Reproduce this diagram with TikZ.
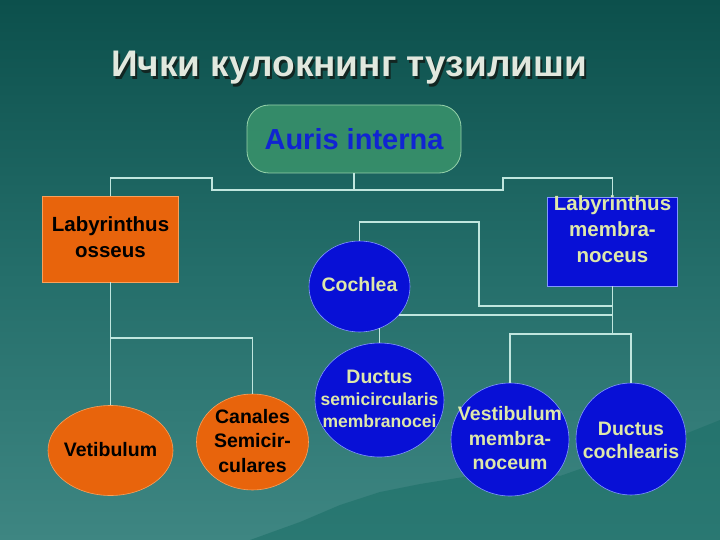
\documentclass[tikz,border=0pt]{standalone}
\usepackage{fontspec}
\setmainfont{Liberation Sans}
\usetikzlibrary{shapes.geometric}
\definecolor{bgtop}{RGB}{12,80,76}
\definecolor{bgmid}{RGB}{36,110,106}
\definecolor{bgbot}{RGB}{62,134,130}
\definecolor{mount}{RGB}{26,110,102}
\definecolor{lineC}{RGB}{192,230,222}
\definecolor{orangeF}{RGB}{232,100,12}
\definecolor{orangeB}{RGB}{250,160,90}
\definecolor{blueF}{RGB}{8,16,214}
\definecolor{blueB}{RGB}{130,150,255}
\definecolor{paleT}{RGB}{222,232,170}
\definecolor{aurisF}{RGB}{58,148,108}
\definecolor{aurisB}{RGB}{150,210,170}
\definecolor{aurisT}{RGB}{16,36,210}
\definecolor{titleT}{RGB}{226,232,222}
\definecolor{titleS}{RGB}{18,38,34}
% zero-size centred text block, shifted up by #1
\newcommand{\zc}[2][0pt]{\vbox to 0pt{\vss\hbox to 0pt{\hss\begin{tabular}{@{}c@{}}#2\end{tabular}\hss}\vskip #1\vskip #1\vss}}
\begin{document}
\begin{tikzpicture}[x=1pt,y=-1pt,
  conn/.style={draw=lineC, line width=1.6pt},
  obox/.style={rectangle, fill=orangeF, draw=orangeB, line width=0.6pt, inner sep=0pt, text=black, font=\bfseries\fontsize{20.5}{26}\selectfont},
  bbox/.style={rectangle, fill=blueF, draw=blueB, line width=0.6pt, inner sep=0pt, text=paleT, font=\bfseries\fontsize{20.5}{26}\selectfont},
  oell/.style={ellipse, fill=orangeF, draw=orangeB, line width=0.6pt, inner sep=0pt, text=black, font=\bfseries\fontsize{19.5}{24.5}\selectfont},
  bell/.style={ellipse, fill=blueF, draw=blueB, line width=0.6pt, inner sep=0pt, text=paleT, font=\bfseries\fontsize{19.5}{24.5}\selectfont},
  ttl/.style={font=\bfseries\fontsize{37}{44}\selectfont, inner sep=0pt}
]
\useasboundingbox (0,0) rectangle (720,540);
% background
\shade[top color=bgtop, bottom color=bgbot, middle color=bgmid] (0,0) rectangle (720,540);
\fill[mount, opacity=0.55] (250,540) -- (300,522) -- (340,505) -- (380,492) -- (420,484) -- (470,476) -- (520,470) -- (560,476) -- (600,462) -- (640,455) -- (680,436) -- (720,420) -- (720,540) -- cycle;

% title
\node[ttl, text=titleS] (titleshadow) at (351,71) {Ички кулокнинг тузилиши};
\node[ttl, text=titleT] (title) at (349,68) {Ички кулокнинг тузилиши};

% nodes
\node[rectangle, rounded corners=22pt, fill=aurisF, fill opacity=0.85, text opacity=1, draw=aurisB, line width=0.8pt, minimum width=214pt, minimum height=68pt, text=aurisT, font=\bfseries\fontsize{29}{34}\selectfont] (auris) at (354,139) {Auris interna};

\node[obox, minimum width=136pt, minimum height=86pt] (losseus) at (110.5,239) {\zc{Labyrinthus\\osseus}};
\node[bbox, minimum width=130pt, minimum height=89pt] (lmemb) at (612.5,241.5) {\zc[10pt]{Labyrinthus\\membra-\\noceus}};

\node[bell, minimum width=101pt, minimum height=91pt] (cochlea) at (359.5,286.5) {\zc{Cochlea}};
\node[bell, minimum width=129pt, minimum height=114pt] (dsemi) at (379.5,400) {\zc[-1pt]{Ductus\\[-3pt]{\fontsize{17.5}{21}\selectfont semicircularis}\\[-2pt]{\fontsize{17.5}{21}\selectfont membranocei}}};
\node[bell, minimum width=118pt, minimum height=113pt] (vest) at (510,439.5) {\zc[-1pt]{Vestibulum\\membra-\\noceum}};
\node[bell, minimum width=110pt, minimum height=112pt] (dcoch) at (631,439) {\zc[-3pt]{Ductus\\[-2pt]cochlearis}};

\node[oell, minimum width=125pt, minimum height=90pt] (vet) at (110.5,450.5) {\zc[-1pt]{Vetibulum}};
\node[oell, minimum width=112pt, minimum height=96pt] (canal) at (252.5,442) {\zc[-1pt]{Canales\\Semicir-\\culares}};

% connectors
\coordinate (ja) at (354,190);
\coordinate (jl) at (110.5,338);
\coordinate (jr) at (612.5,334);
\draw[conn] (auris.south) -- (ja) -- (212,190) -- (212,178) -- (110.5,178) -- (losseus.north);
\draw[conn] (ja) -- (503,190) -- (503,178) -- (612.5,178) -- (lmemb.north);
\draw[conn] (losseus.south) -- (jl) -- (vet.north);
\draw[conn] (jl) -- (252.5,338) -- (canal.north);
\draw[conn] (lmemb.south) -- (jr);
\draw[conn] (jr) -- (510,334) -- (vest.north);
\draw[conn] (jr) -- (631,334) -- (dcoch.north);
\draw[conn] (cochlea.north) -- (359.5,222) -- (479,222) -- (479,306) -- (612.5,306);
\draw[conn] (cochlea.-36) -- (cochlea.-36 -| jr);
\draw[conn] (dsemi.north) -- (dsemi.north |- cochlea.-64);
\end{tikzpicture}
\end{document}
